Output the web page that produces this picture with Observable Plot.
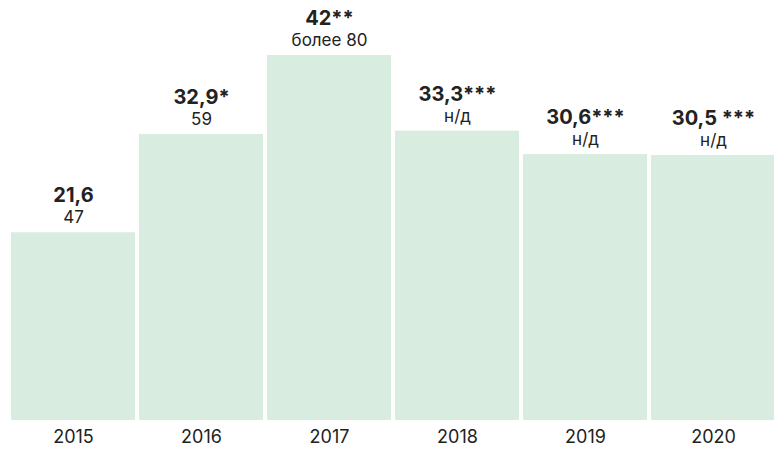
<!DOCTYPE html>
<html>
<head>
<meta charset="utf-8">
<script src="https://cdn.jsdelivr.net/npm/d3@7"></script>
<script src="https://cdn.jsdelivr.net/npm/@observablehq/plot@0.6"></script>
<style>
  html, body { margin: 0; padding: 0; background: #fff; }
  #chart svg { display: block; }
</style>
</head>
<body>
<div id="chart"></div>
<script>
const years = ["2015", "2016", "2017", "2018", "2019", "2020"];
const values = [21.6, 32.9, 42, 33.3, 30.6, 30.5];
const mainLabels = ["21,6", "32,9*", "42**", "33,3***", "30,6***", "30,5 ***"];
const subLabels = ["47", "59", "более 80", "н/д", "н/д", "н/д"];

const data = years.map((y, i) => ({year: y, value: values[i], main: mainLabels[i], sub: subLabels[i]}));

const font = "Inter, 'Noto Sans', sans-serif";

const chart = Plot.plot({
  width: 774,
  height: 452,
  marginLeft: 9,
  marginRight: 0,
  marginTop: 0,
  marginBottom: 32,
  style: {fontFamily: font, color: "#222", background: "#fff"},
  x: {domain: years, range: [9, 778], paddingInner: 0.03, paddingOuter: 0, axis: null},
  y: {domain: [0, 42], range: [420, 55], axis: null},
  marks: [
    Plot.barY(data, {x: "year", y: "value", fill: "#d8ecdf"}),
    Plot.text(data, {x: "year", y: "value", text: "sub", dy: -15, fontSize: 17, fill: "#222"}),
    Plot.text(data, {x: "year", y: "value", text: "main", dy: -37, fontSize: 20, fontWeight: "bold", fill: "#222"}),
    Plot.text(data, {x: "year", text: "year", frameAnchor: "bottom", dy: 22, fontSize: 18, fill: "#222"})
  ]
});
document.getElementById("chart").appendChild(chart);
</script>
</body>
</html>
